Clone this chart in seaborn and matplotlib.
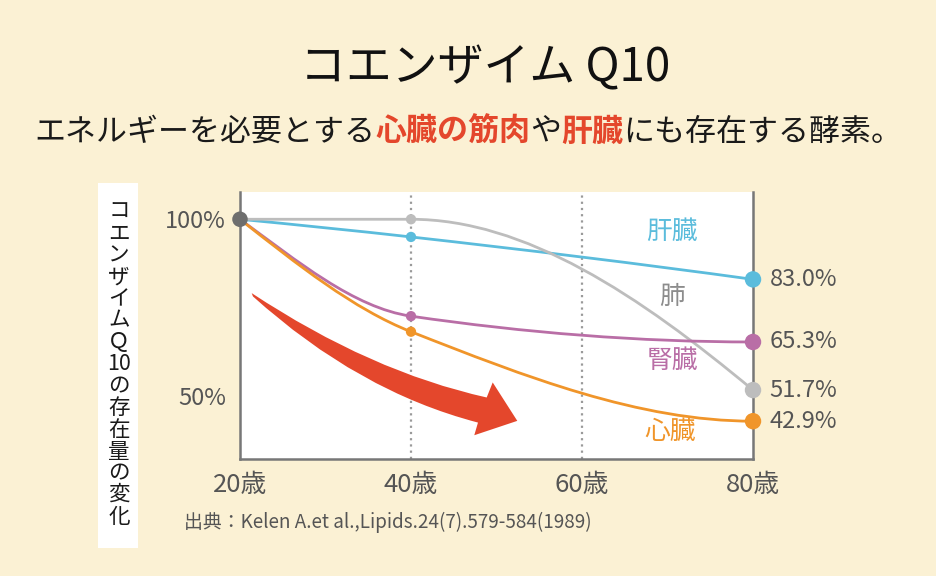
import numpy as np
import pandas as pd
import matplotlib
matplotlib.use('Agg')
import matplotlib.pyplot as plt
import seaborn as sns
from matplotlib.path import Path
from matplotlib.patches import PathPatch, Rectangle

# --- data (Kalén et al. 1989) ---
ages = [20, 40, 80]
liver = [100, 95.0, 83.0]
lung = [100, 100, 51.7]
kidney = [100, 72.6, 65.3]
heart = [100, 68.2, 42.9]
organs = ['肝臓', '肺', '腎臓', '心臓']

x_ticks = [20, 40, 60, 80]
x_labels = ['20歳', '40歳', '60歳', '80歳']
y_ticks = [50, 100]
y_labels = ['50%', '100%']
grid_ages = [40, 60]

title = 'コエンザイム Q10'
sub_parts = ['エネルギーを必要とする', '心臓の筋肉', 'や', '肝臓', 'にも存在する酵素。']
ylabel_cells = ['コ', 'エ', 'ン', 'ザ', 'イ', 'ム', 'Ｑ', '10', 'の', '存', '在', '量', 'の', '変', '化']
source = '出典：Kelen A.et al.,Lipids.24(7).579-584(1989)'

colors = {'肝臓': '#5bbcdc', '肺': '#bdbdbd', '腎臓': '#b96ea6', '心臓': '#f0952a'}
bg = '#fbf1d4'
red = '#e4472c'
txt_gray = '#555555'

series = {'肝臓': liver, '肺': lung, '腎臓': kidney, '心臓': heart}
df = pd.DataFrame([(o, a, v) for o in organs for a, v in zip(ages, series[o])],
                  columns=['organ', 'age', 'value'])


def pchip_slopes(x, y):
    x = np.asarray(x, float)
    y = np.asarray(y, float)
    h = np.diff(x)
    d = np.diff(y) / h
    m = np.zeros_like(y)
    for k in range(1, len(x) - 1):
        if d[k - 1] * d[k] > 0:
            w1 = 2 * h[k] + h[k - 1]
            w2 = h[k] + 2 * h[k - 1]
            m[k] = (w1 + w2) / (w1 / d[k - 1] + w2 / d[k])

    def end(h0, h1, d0, d1):
        mm = ((2 * h0 + h1) * d0 - h0 * d1) / (h0 + h1)
        if np.sign(mm) != np.sign(d0):
            mm = 0.0
        elif np.sign(d0) != np.sign(d1) and abs(mm) > abs(3 * d0):
            mm = 3 * d0
        return mm

    m[0] = end(h[0], h[1], d[0], d[1])
    m[-1] = end(h[-1], h[-2], d[-1], d[-2])
    return m


def smooth_path(x, y):
    # cubic hermite segments drawn as bezier curves
    m = pchip_slopes(x, y)
    verts = [(x[0], y[0])]
    codes = [Path.MOVETO]
    for i in range(len(x) - 1):
        h = x[i + 1] - x[i]
        verts += [(x[i] + h / 3, y[i] + m[i] * h / 3),
                  (x[i + 1] - h / 3, y[i + 1] - m[i + 1] * h / 3),
                  (x[i + 1], y[i + 1])]
        codes += [Path.CURVE4] * 3
    return Path(verts, codes)


sns.set_theme(style='white')
plt.rcParams['font.family'] = ['Noto Sans CJK JP', 'DejaVu Sans']

fig = plt.figure(figsize=(9.36, 5.76), dpi=100, facecolor=bg)
ax = fig.add_axes([0.2564, 0.2031, 0.5481, 0.4635])
ax.set_facecolor('white')

for a in grid_ages:
    ax.axvline(a, color='#9a9a9a', lw=1.6, linestyle=(0, (1, 1.8)), zorder=1)

for o in organs:
    ax.add_patch(PathPatch(smooth_path(ages, series[o]), fill=False,
                           edgecolor=colors[o], lw=2.0, zorder=2))

mid = df[df['age'] == ages[1]]
end = df[df['age'] == ages[-1]]
sns.scatterplot(data=mid, x='age', y='value', hue='organ', palette=colors,
                s=55, edgecolor='none', legend=False, zorder=4, ax=ax, clip_on=False)
sns.scatterplot(data=end, x='age', y='value', hue='organ', palette=colors,
                s=140, edgecolor='none', legend=False, zorder=4, ax=ax, clip_on=False)
start = df[df['age'] == ages[0]].drop_duplicates('age')
sns.scatterplot(data=start, x='age', y='value', color='#6e6e6e',
                s=125, edgecolor='none', legend=False, zorder=5, ax=ax, clip_on=False)

for o in organs:
    v = series[o][-1]
    ax.annotate(f'{v:.1f}%', xy=(ages[-1], v), xytext=(12, 0),
                textcoords='offset points', ha='left', va='center',
                fontsize=17, color=txt_gray, annotation_clip=False)

# organ names inside the plot
label_pos = {'肝臓': (0.842, 0.850), '肺': (0.842, 0.607),
             '腎臓': (0.842, 0.367), '心臓': (0.838, 0.101)}
for o in organs:
    ax.text(*label_pos[o], o, transform=ax.transAxes, ha='center', va='center',
            fontsize=18.5, color=colors[o] if o != '肺' else '#8c8c8c')

# big red trend arrow (decoration, axes fraction)
arrow = Path([(0.0228, 0.6214), (0.2544, 0.3271), (0.4809, 0.2305),
              (0.4926, 0.2868), (0.5405, 0.1429), (0.4567, 0.0891),
              (0.4639, 0.1365), (0.2300, 0.2538), (0.0253, 0.6090),
              (0.0228, 0.6214)],
             [Path.MOVETO, Path.CURVE3, Path.CURVE3, Path.LINETO, Path.LINETO,
              Path.LINETO, Path.LINETO, Path.CURVE3, Path.CURVE3, Path.CLOSEPOLY])
ax.add_patch(PathPatch(arrow, facecolor=red, edgecolor='none',
                       transform=ax.transAxes, zorder=3))

ax.set_xlim(20, 80)
ax.set_ylim(32.2, 107.7)
ax.set_xticks(x_ticks)
ax.set_xticklabels(x_labels)
ax.set_yticks(y_ticks)
ax.set_yticklabels(y_labels)
ax.set_xlabel('')
ax.set_ylabel('')
ax.tick_params(length=0, pad=10, labelsize=17, colors=txt_gray)
ax.tick_params(axis='x', labelsize=18.5, pad=9)
ax.spines['top'].set_visible(False)
for s in ['left', 'right', 'bottom']:
    ax.spines[s].set_color('#777777')
    ax.spines[s].set_linewidth(1.8)

# vertical y label in a white box
fig.patches.append(Rectangle((0.1047, 0.0486), 0.0427, 0.6337, transform=fig.transFigure,
                             facecolor='white', edgecolor='none', zorder=0))
for i, ch in enumerate(ylabel_cells):
    fig.text(0.1271, 1 - (211.7 + 21.8 * i) / 576, ch, ha='center', va='center',
             fontsize=15.5, color='#1a1a1a')

fig.text(0.518, 1 - 68 / 576, title, ha='center', va='center', fontsize=33,
         color='#111111', fontweight='normal')

# subtitle with red highlighted words
renderer = fig.canvas.get_renderer()
styles = [('#1a1a1a', 'normal'), (red, 'bold'), ('#1a1a1a', 'normal'),
          (red, 'bold'), ('#1a1a1a', 'normal')]
sub_y = 1 - 132 / 576
texts = []
for s, (c, w) in zip(sub_parts, styles):
    texts.append(fig.text(0, sub_y, s, ha='left', va='center', fontsize=22.3,
                          color=c, fontweight=w))
widths = [t.get_window_extent(renderer).width for t in texts]
x0 = (fig.bbox.width - sum(widths)) / 2
for t, w in zip(texts, widths):
    t.set_x(x0 / fig.bbox.width)
    x0 += w

fig.text(0.1966, 1 - 522 / 576, source, ha='left', va='center', fontsize=13.6,
         color=txt_gray)

fig.savefig('out.png', dpi=100, facecolor=bg)
